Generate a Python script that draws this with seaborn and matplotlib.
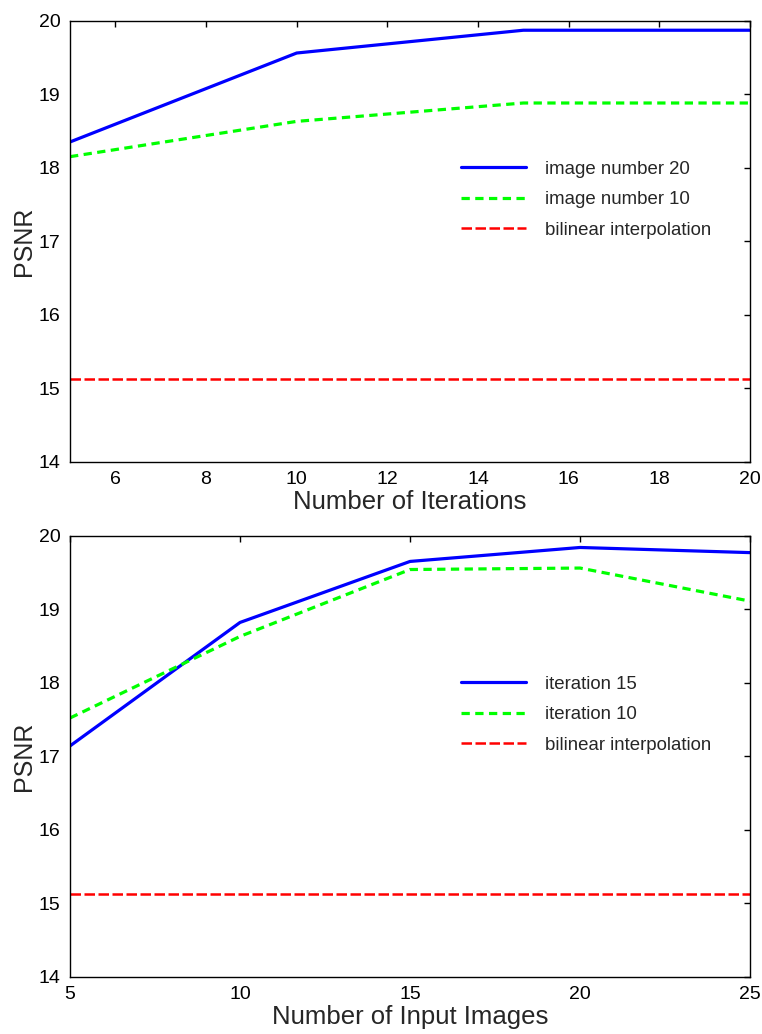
import numpy as np
import pandas as pd
import matplotlib
matplotlib.use("Agg")
import matplotlib.pyplot as plt
import seaborn as sns

# top panel: PSNR vs number of iterations
iterations   = [5, 10, 15, 20]
psnr_img20   = [18.35, 19.56, 19.87, 19.87]
psnr_img10   = [18.15, 18.63, 18.88, 18.88]
bilinear_top = [15.12, 15.12, 15.12, 15.12]

# bottom panel: PSNR vs number of input images
n_images     = [5, 10, 15, 20, 25]
psnr_iter15  = [17.14, 18.82, 19.65, 19.84, 19.77]
psnr_iter10  = [17.52, 18.63, 19.54, 19.56, 19.11]
bilinear_bot = [15.12, 15.12, 15.12, 15.12, 15.12]

sns.set_style("white")
plt.rcParams['font.family'] = ['Liberation Sans', 'DejaVu Sans']
plt.rcParams['axes.linewidth'] = 1.0
plt.rcParams['xtick.direction'] = 'in'
plt.rcParams['ytick.direction'] = 'in'

fig = plt.figure(figsize=(7.62, 10.34), dpi=100)
ax1 = fig.add_axes([0.0919, 0.5535, 0.8924, 0.4265])
ax2 = fig.add_axes([0.0919, 0.0554, 0.8924, 0.4265])

top = pd.DataFrame({"x": iterations, "a": psnr_img20, "b": psnr_img10, "c": bilinear_top})
bot = pd.DataFrame({"x": n_images, "a": psnr_iter15, "b": psnr_iter10, "c": bilinear_bot})


def draw(ax, df, labels, xticks, xlabel):
    sns.lineplot(data=df, x="x", y="a", ax=ax, color=(0, 0, 1), lw=2.3, label=labels[0])
    sns.lineplot(data=df, x="x", y="b", ax=ax, color=(0, 1, 0), lw=2.3, label=labels[1])
    ax.lines[-1].set_dashes([2.6, 1.7])
    sns.lineplot(data=df, x="x", y="c", ax=ax, color=(1, 0, 0), lw=1.8, label=labels[2])
    ax.lines[-1].set_dashes([4.2, 1.4])

    ax.set_xlim(df["x"].min(), df["x"].max())
    ax.set_ylim(14, 20)
    ax.set_xticks(xticks)
    ax.set_yticks(range(14, 21))
    ax.tick_params(axis='both', which='both', top=True, right=True, length=4,
                   width=1, labelsize=14, colors='black', pad=7)
    ax.set_xlabel(xlabel, fontsize=18.5, labelpad=1)
    ax.set_ylabel("PSNR", fontsize=18, labelpad=2)
    for s in ax.spines.values():
        s.set_visible(True)
        s.set_color('black')

    ax.legend(loc='upper left', bbox_to_anchor=(0.55, 0.72), frameon=False,
              fontsize=13.4, handlelength=3.5, handletextpad=1.0, labelspacing=0.72)


draw(ax1, top, ["image number 20", "image number 10", "bilinear interpolation"],
     [6, 8, 10, 12, 14, 16, 18, 20], "Number of Iterations")
draw(ax2, bot, ["iteration 15", "iteration 10", "bilinear interpolation"],
     [5, 10, 15, 20, 25], "Number of Input Images")

fig.savefig("out.png", dpi=100)
